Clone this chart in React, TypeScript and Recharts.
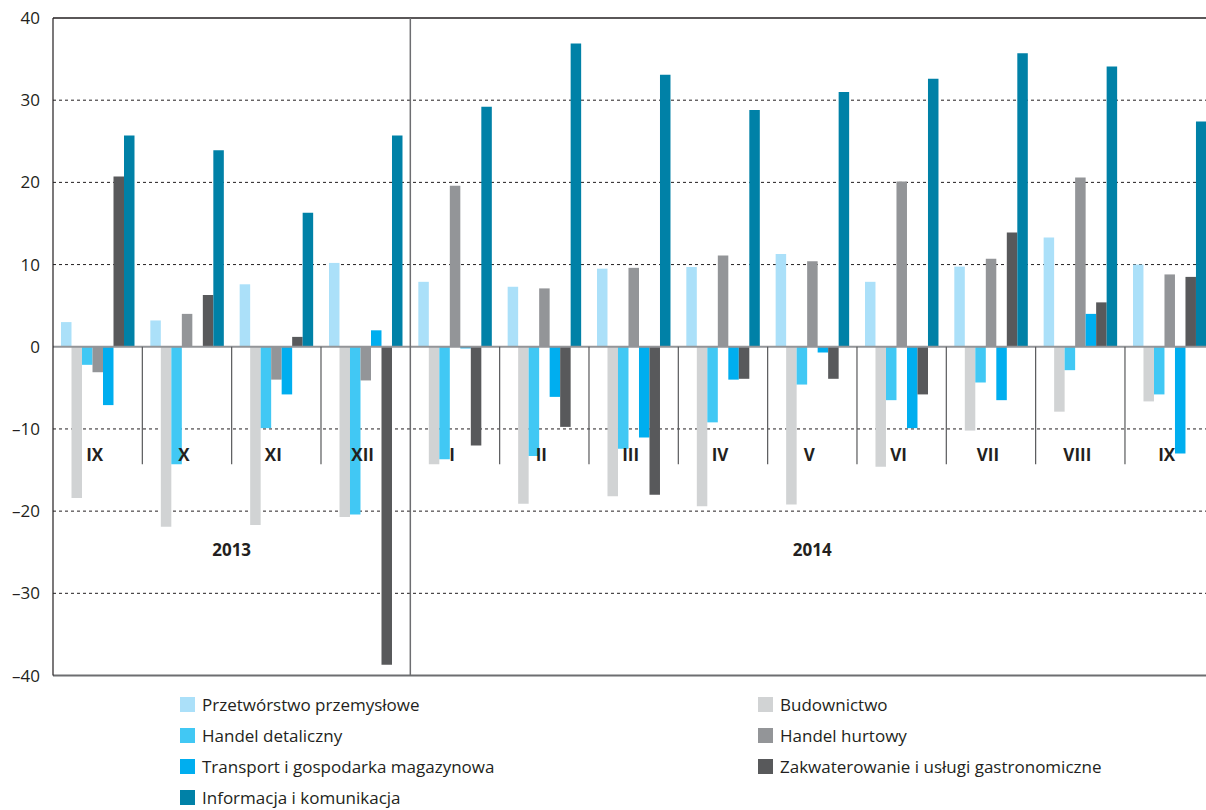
import React from 'react';
import { BarChart, Bar, XAxis, YAxis, CartesianGrid, ReferenceLine, ReferenceDot, ReferenceArea } from 'recharts';

const months = ['IX', 'X', 'XI', 'XII', 'I', 'II', 'III', 'IV', 'V', 'VI', 'VII', 'VIII', 'IX'];
const years = ['2013', '2013', '2013', '2013', '2014', '2014', '2014', '2014', '2014', '2014', '2014', '2014', '2014'];
const yTicks = [-40, -30, -20, -10, 0, 10, 20, 30, 40];
const gridValues = [-30, -20, -10, 10, 20, 30];

const przetworstwo = [3.0, 3.2, 7.6, 10.2, 7.9, 7.3, 9.5, 9.7, 11.3, 7.9, 9.75, 13.3, 10.0];
const budownictwo = [-18.4, -21.9, -21.7, -20.7, -14.3, -19.1, -18.2, -19.4, -19.2, -14.6, -10.2, -7.9, -6.65];
const detaliczny = [-2.2, -14.3, -9.9, -20.4, -13.7, -13.3, -12.4, -9.2, -4.6, -6.5, -4.35, -2.85, -5.8];
const hurtowy = [-3.1, 4.0, -4.0, -4.1, 19.6, 7.1, 9.6, 11.1, 10.4, 20.1, 10.7, 20.6, 8.8];
const transport = [-7.1, 0, -5.8, 2.0, -0.2, -6.1, -11.05, -4.0, -0.7, -9.9, -6.5, 4.0, -13.0];
const zakwaterowanie = [20.7, 6.3, 1.2, -38.7, -12.0, -9.75, -18.0, -3.9, -3.9, -5.8, 13.9, 5.4, 8.5];
const informacja = [25.7, 23.9, 16.3, 25.7, 29.2, 36.9, 33.1, 28.8, 31.0, 32.6, 35.7, 34.1, 27.4];

// bar order inside a month; legend col/row kept separately
const series = [
  { key: 'przetworstwo', name: 'Przetwórstwo przemysłowe', color: '#abe0f9', values: przetworstwo, col: 0, row: 0 },
  { key: 'budownictwo', name: 'Budownictwo', color: '#d1d3d4', values: budownictwo, col: 1, row: 0 },
  { key: 'detaliczny', name: 'Handel detaliczny', color: '#41c8f4', values: detaliczny, col: 0, row: 1 },
  { key: 'hurtowy', name: 'Handel hurtowy', color: '#939598', values: hurtowy, col: 1, row: 1 },
  { key: 'transport', name: 'Transport i gospodarka magazynowa', color: '#00aeef', values: transport, col: 0, row: 2 },
  { key: 'zakwaterowanie', name: 'Zakwaterowanie i usługi gastronomiczne', color: '#58595b', values: zakwaterowanie, col: 1, row: 2 },
  { key: 'informacja', name: 'Informacja i komunikacja', color: '#0081a7', values: informacja, col: 0, row: 3 },
];

const catKeys = months.map((m, i) => `${m}-${years[i]}`);
const data = catKeys.map((k, i) => {
  const row: Record<string, string | number> = { cat: k };
  series.forEach((s) => { row[s.key] = s.values[i]; });
  return row;
});

const FONT = '"Open Sans", "Noto Sans", sans-serif';
const TEXT = '#231f20';

const fmtY = (v: number) => (v < 0 ? `–${Math.abs(v)}` : `${v}`);

const MonthLabel = (label: string) => (props: any) => {
  const vb = props.viewBox || {};
  const cx = (vb.x || 0) + (vb.width || 0) / 2;
  const cy = (vb.y || 0) + (vb.height || 0) / 2;
  return (
    <text x={cx - 3} y={cy} dy="0.35em" textAnchor="middle" fill={TEXT} fontSize={17} fontWeight={700} fontFamily={FONT}>
      {label}
    </text>
  );
};

const App: React.FC = () => {
  const firstOf2014 = catKeys[years.indexOf('2014')];
  const yearList = Array.from(new Set(years));
  return (
    <div style={{ position: 'absolute', left: 0, top: 0, width: 1206, height: 810, overflow: 'hidden', background: '#fff', fontFamily: FONT }}>
      <BarChart
        width={1230}
        height={810}
        data={data}
        margin={{ top: 18, right: 15.7, bottom: 134.5, left: 0 }}
        barSize={10.5}
        barGap={0}
      >
        <CartesianGrid horizontal vertical={false} horizontalValues={gridValues} stroke={TEXT} strokeDasharray="3 3" />
        <XAxis dataKey="cat" hide />
        <YAxis
          domain={[-40, 40]}
          ticks={yTicks}
          width={53}
          tickLine={false}
          tickSize={0}
          tickMargin={13}
          axisLine={{ stroke: TEXT, strokeWidth: 1.2 }}
          tickFormatter={fmtY}
          tick={{ fill: TEXT, fontSize: 17, fontFamily: FONT }}
          interval={0}
        />
        {series.map((s) => (
          <Bar key={s.key} dataKey={s.key} name={s.name} fill={s.color} isAnimationActive={false} />
        ))}
        <ReferenceLine y={0} stroke="#939598" strokeWidth={2} />
        <ReferenceLine y={40} stroke={TEXT} strokeWidth={1.5} />
        <ReferenceLine y={-40} stroke="#6d6e71" strokeWidth={2} />
        <ReferenceLine x={firstOf2014} position="start" stroke="#6d6e71" strokeWidth={1.5} />
        {catKeys.slice(1).filter((k) => k !== firstOf2014).map((k) => (
          <ReferenceLine
            key={`sep-${k}`}
            segment={[{ x: k, y: 0 }, { x: k, y: -14.3 }]}
            position="start"
            stroke="#58595b"
            strokeWidth={1.2}
          />
        ))}
        {catKeys.map((k, i) => (
          <ReferenceDot key={`lbl-${k}`} x={k} y={-13.2} r={1} fill="none" stroke="none" label={MonthLabel(months[i])} />
        ))}
        {yearList.map((y) => {
          const idx = years.map((v, i) => (v === y ? i : -1)).filter((i) => i >= 0);
          return (
            <ReferenceArea
              key={`yr-${y}`}
              x1={catKeys[idx[0]]}
              x2={catKeys[idx[idx.length - 1]]}
              y1={-23.7}
              y2={-25.7}
              fill="none"
              stroke="none"
              label={{ value: y, position: 'center', fill: TEXT, fontSize: 17, fontWeight: 700, fontFamily: FONT }}
            />
          );
        })}
      </BarChart>
      {series.map((s) => (
        <div
          key={`leg-${s.key}`}
          style={{
            position: 'absolute',
            left: s.col === 0 ? 180 : 758,
            top: 697 + s.row * 31,
            height: 15,
            display: 'flex',
            alignItems: 'center',
            whiteSpace: 'nowrap',
          }}
        >
          <span style={{ display: 'inline-block', width: 15, height: 15, background: s.color, marginRight: 7 }} />
          <span style={{ fontSize: 17, color: TEXT, lineHeight: '15px' }}>{s.name}</span>
        </div>
      ))}
    </div>
  );
};

export default App;
